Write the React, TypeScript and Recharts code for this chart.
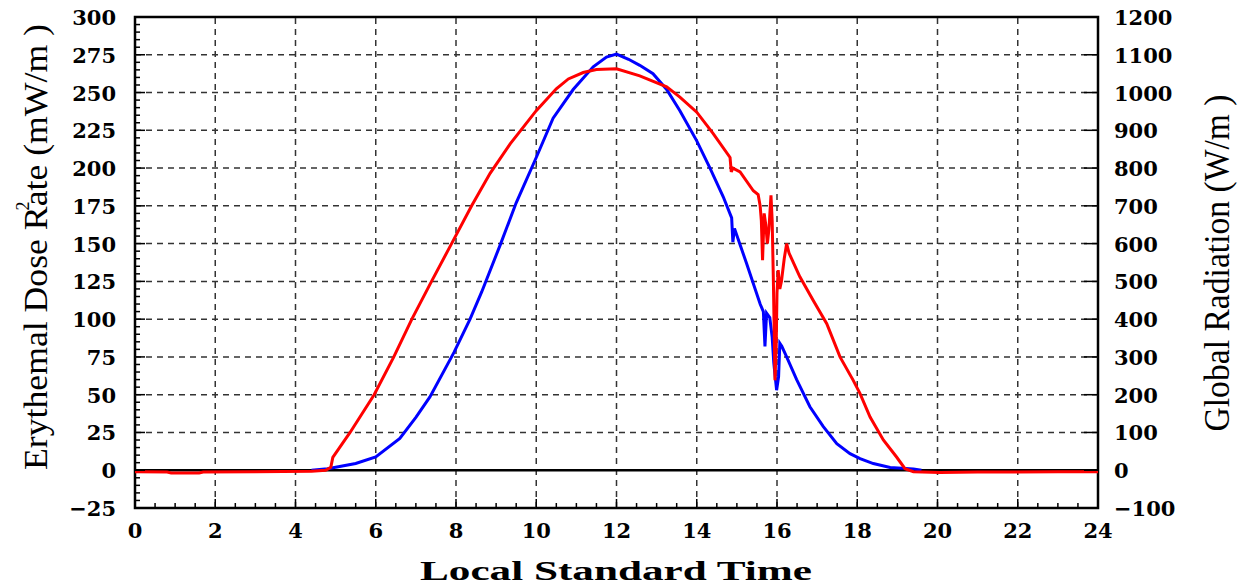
import React from 'react';
import { LineChart, Line, XAxis, YAxis, ReferenceLine, ReferenceArea } from 'recharts';

// [hour, erythemal dose rate mW/m²] – blue, left axis
const uvSeries: [number, number][] = [
  [4.4, 0], [4.8, 1], [5.0, 2], [5.5, 4.5], [6.0, 8.8], [6.6, 21], [7.0, 35], [7.35, 48.5],
  [7.95, 78], [8.35, 100], [8.64, 118], [9.1, 149], [9.5, 177], [10.0, 207], [10.42, 233],
  [10.92, 252], [11.42, 267], [11.75, 273.5], [12.0, 275.5], [12.3, 272], [12.58, 268],
  [12.91, 262.5], [13.25, 252], [13.58, 238], [14.0, 218], [14.33, 200], [14.66, 181],
  [14.87, 167], [14.9, 151], [14.94, 160], [15.24, 137], [15.58, 110], [15.66, 105],
  [15.7, 82], [15.74, 104], [15.82, 101], [15.88, 88], [15.92, 71], [15.99, 53], [16.04, 62],
  [16.07, 84], [16.12, 82], [16.24, 75], [16.49, 60], [16.82, 42], [17.15, 29], [17.49, 17.6],
  [17.82, 11], [18.07, 7.7], [18.4, 4.4], [18.82, 1.8], [19.4, 0.9], [19.6, 0],
];

// [hour, global radiation W/m²] – red, right axis
const radSeries: [number, number][] = [
  [0, -4], [0.8, -5], [0.9, -7], [1.6, -7], [1.7, -5], [3, -4], [4.4, -3], [4.75, 0],
  [4.88, 8], [4.93, 34], [5.36, 100], [5.96, 200], [6.45, 300], [6.9, 400], [7.39, 500],
  [7.89, 600], [8.39, 700], [8.85, 786], [9.35, 864], [10.0, 952], [10.5, 1010],
  [10.8, 1036], [11.17, 1053], [11.5, 1061], [12.0, 1063], [12.58, 1044], [13.25, 1015],
  [13.58, 988], [14.0, 948], [14.41, 891], [14.83, 828], [14.86, 790], [14.9, 800],
  [15.08, 790], [15.41, 740], [15.53, 730], [15.58, 700], [15.61, 660], [15.64, 556],
  [15.68, 680], [15.72, 650], [15.76, 600], [15.8, 640], [15.85, 728], [15.88, 660],
  [15.91, 500], [15.95, 238], [15.98, 330], [16.0, 470], [16.03, 530], [16.07, 480],
  [16.11, 500], [16.18, 560], [16.24, 600], [16.3, 575], [16.57, 512], [16.9, 450],
  [17.24, 388], [17.57, 300], [17.9, 238], [18.07, 203], [18.32, 141], [18.65, 80],
  [18.98, 35], [19.19, 4], [19.4, -4], [20.06, -6], [21, -5], [22, -5], [23, -4], [24, -4],
];

const hourLabels = [0, 2, 4, 6, 8, 10, 12, 14, 16, 18, 20, 22, 24];
const leftLabels = [-25, 0, 25, 50, 75, 100, 125, 150, 175, 200, 225, 250, 275, 300];
const rightLabels = [-100, 0, 100, 200, 300, 400, 500, 600, 700, 800, 900, 1000, 1100, 1200];

const uvData = uvSeries.map(([t, v]) => ({ t, v }));
const radData = radSeries.map(([t, v]) => ({ t, v }));

// minor ticks: every 0.5 h and every 5 mW/m²
const hourTicks: number[] = [];
for (let h = 0; h <= 24; h += 0.5) hourTicks.push(h);
const leftTicks: number[] = [];
for (let v = -25; v <= 300; v += 5) leftTicks.push(v);

const tickFont: React.CSSProperties = {
  fontFamily: '"DejaVu Serif", serif',
  fontWeight: 'bold',
  fontSize: 21,
  fill: '#000',
};

const fmt = (v: number) => (v < 0 ? `\u2212${Math.abs(v)}` : `${v}`);

const LeftTick = (props: any) => {
  const { x, y, payload } = props;
  const v = payload.value;
  const major = leftLabels.includes(v);
  return (
    <g>
      <line x1={x} x2={x + (major ? 10 : 5)} y1={y} y2={y} stroke="#000" strokeWidth={1.5} />
      {major && (
        <text x={x - 19} y={y + 8} textAnchor="end" style={tickFont}>
          {fmt(v)}
        </text>
      )}
    </g>
  );
};

const RightTick = (props: any) => {
  const { x, y, payload } = props;
  const v = payload.value;
  return (
    <g>
      <line x1={x} x2={x - 14} y1={y} y2={y} stroke="#000" strokeWidth={1.5} />
      <text x={x + 16} y={y + 8} textAnchor="start" style={tickFont}>
        {fmt(v)}
      </text>
    </g>
  );
};

const BottomTick = (props: any) => {
  const { x, y, payload } = props;
  const v = payload.value;
  const major = hourLabels.includes(v);
  return (
    <g>
      <line x1={x} x2={x} y1={y} y2={y - (major ? 9 : 5)} stroke="#000" strokeWidth={1.5} />
      {major && (
        <text x={x} y={y + 30} textAnchor="middle" style={tickFont}>
          {v}
        </text>
      )}
    </g>
  );
};

const gridDash = { stroke: '#333', strokeWidth: 1.5, strokeDasharray: '6 5' };

export default function App() {
  return (
    <div style={{ position: 'relative', width: 1241, height: 586, background: '#fff' }}>
      <style>{`body{margin:0}`}</style>
      <LineChart width={1241} height={586} margin={{ top: 17, right: 0, bottom: 0, left: 0 }}>
        <XAxis
          dataKey="t"
          type="number"
          domain={[0, 24]}
          ticks={hourTicks}
          interval={0}
          height={78}
          axisLine={false}
          tickLine={false}
          tickSize={0}
          tickMargin={0}
          tick={<BottomTick />}
          allowDataOverflow
        />
        <YAxis
          yAxisId="left"
          domain={[-25, 300]}
          ticks={leftTicks}
          interval={0}
          width={135}
          axisLine={false}
          tickLine={false}
          tickSize={0}
          tickMargin={0}
          tick={<LeftTick />}
          allowDataOverflow
        />
        <YAxis
          yAxisId="right"
          orientation="right"
          domain={[-100, 1200]}
          ticks={rightLabels}
          interval={0}
          width={143}
          axisLine={false}
          tickLine={false}
          tickSize={0}
          tickMargin={0}
          tick={<RightTick />}
          allowDataOverflow
        />
        {hourLabels.slice(1, -1).map((h) => (
          <ReferenceLine key={`vx${h}`} x={h} yAxisId="left" {...gridDash} />
        ))}
        {leftLabels
          .filter((v) => v > 0 && v < 300)
          .map((v) => (
            <ReferenceLine key={`hy${v}`} y={v} yAxisId="left" {...gridDash} />
          ))}
        <ReferenceLine y={0} yAxisId="left" stroke="#000" strokeWidth={2.5} />
        <ReferenceArea
          x1={0}
          x2={24}
          y1={-25}
          y2={300}
          yAxisId="left"
          fill="none"
          fillOpacity={0}
          stroke="#000"
          strokeWidth={2.5}
        />
        <Line
          data={uvData}
          yAxisId="left"
          dataKey="v"
          type="linear"
          stroke="#0000ff"
          strokeWidth={3}
          dot={false}
          isAnimationActive={false}
        />
        <Line
          data={radData}
          yAxisId="right"
          dataKey="v"
          type="linear"
          stroke="#ff0000"
          strokeWidth={3}
          dot={false}
          isAnimationActive={false}
        />
      </LineChart>
      <svg
        width={1241}
        height={586}
        style={{ position: 'absolute', left: 0, top: 0, pointerEvents: 'none' }}
      >
        <text
          transform="translate(47,247) rotate(-90)"
          textAnchor="middle"
          textLength={446}
          lengthAdjust="spacingAndGlyphs"
          style={{ fontFamily: '"Liberation Serif", serif', fontSize: 34, fill: '#000' }}
        >
          Erythemal Dose Rate (mW/m )
        </text>
        <text
          transform="translate(29,206) rotate(-90)"
          textAnchor="middle"
          style={{ fontFamily: '"Liberation Serif", serif', fontSize: 18, fill: '#000' }}
        >
          2
        </text>
        <text
          transform="translate(1229,263) rotate(-90)"
          textAnchor="middle"
          textLength={337}
          lengthAdjust="spacingAndGlyphs"
          style={{ fontFamily: '"Liberation Serif", serif', fontSize: 35, fill: '#000' }}
        >
          Global Radiation (W/m )
        </text>
        <text
          x={616}
          y={580}
          textAnchor="middle"
          textLength={392}
          lengthAdjust="spacingAndGlyphs"
          style={{
            fontFamily: '"Liberation Serif", serif',
            fontWeight: 'bold',
            fontSize: 28,
            fill: '#000',
          }}
        >
          Local Standard Time
        </text>
      </svg>
    </div>
  );
}
